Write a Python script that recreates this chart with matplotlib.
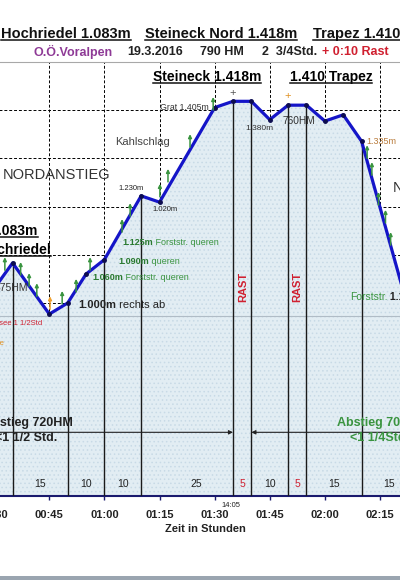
import matplotlib
matplotlib.use("Agg")
import matplotlib.pyplot as plt
import numpy as np
from matplotlib.lines import Line2D
from matplotlib.patches import Rectangle

plt.rcParams['font.family'] = ['Liberation Sans', 'DejaVu Sans']
plt.rcParams['hatch.linewidth'] = 0.6

# height profile: minutes after start, elevation in m
prof_min = [20, 30, 35, 45, 50, 55, 60, 70, 75, 90, 95, 100, 105, 110, 115, 120, 125, 130, 145]
prof_elev = [1000, 1030, 1083, 977, 1000, 1060, 1090, 1222, 1209, 1405, 1418, 1418,
             1380, 1410, 1410, 1377, 1390, 1335, 925]

# waypoints with drop lines and the minutes between them
drop_min = [35, 50, 60, 70, 95, 100, 110, 115, 130, 145]
seg_minutes = ['15', '10', '10', '25', '5', '10', '5', '15', '15']
seg_label_min = [42.5, 55, 65, 85, 97.5, 105, 112.5, 122.5, 137.5]
seg_is_rast = [False, False, False, False, True, False, True, False, False]

# small direction arrows along the route (minute, base elevation)
arrow_min = [32.9, 37.2, 39.5, 41.6, 48.5, 52.3, 56.1, 64.8, 67.0, 75.1, 77.3, 83.3, 89.6,
             131.5, 132.8, 134.6, 136.5, 137.9]
arrow_elev = [1068, 1058, 1035, 1014, 998, 1023, 1068, 1147, 1180, 1220, 1251, 1323, 1400,
              1300, 1265, 1203, 1166, 1120]

tick_min = list(range(15, 151, 15))
tick_labels = [f"{m // 60:02d}:{m % 60:02d}" for m in tick_min]

GREEN = '#3a9440'
BLUE = '#1515c8'

fig = plt.figure(figsize=(4, 5.8), dpi=100)
ax = fig.add_axes([-0.125, 84 / 580, 1.25, 434.25 / 580])

# dashed grid, hidden below the filled profile
for m in tick_min:
    ax.axvline(m, color='black', lw=0.7, ls=(0, (3, 2)), zorder=0.5)
for e in range(700, 1500, 100):
    ax.axhline(e, color='black', lw=0.7, ls=(0, (3, 2)), zorder=0.5)

ax.fill_between(prof_min, prof_elev, 600, facecolor='#e2edf3', edgecolor='#c8dae6',
                hatch='....', lw=0, zorder=1)
ax.axhline(973, color='#b0bcc6', lw=0.8, zorder=2)

drop_top = np.interp(drop_min, prof_min, prof_elev)
ax.vlines(drop_min, 600, drop_top, color='#1a1a1a', lw=1.0, zorder=3)

ax.plot(prof_min, prof_elev, color=BLUE, lw=2.3, zorder=4, solid_joinstyle='round')
ax.plot(prof_min, prof_elev, 'o', ms=2.5, color='#0d0d50', zorder=5)

for m, e in zip(arrow_min, arrow_elev):
    ax.annotate('', xy=(m, e + 27), xytext=(m, e),
                arrowprops=dict(arrowstyle='-|>', color=GREEN, lw=1.1, mutation_scale=5,
                                shrinkA=0, shrinkB=0), zorder=6)
ax.annotate('', xy=(45.2, 1014), xytext=(45.2, 987),
            arrowprops=dict(arrowstyle='-|>', color='#f0a030', lw=1.1, mutation_scale=5,
                            shrinkA=0, shrinkB=0), zorder=6)
ax.text(95, 1435, '+', fontsize=8, color='#555555', ha='center', va='center', zorder=6)
ax.text(110, 1429, '+', fontsize=8, color='#e09020', ha='center', va='center', zorder=6)

# segment durations along the bottom
for m, s, r in zip(seg_label_min, seg_minutes, seg_is_rast):
    ax.text(m, 625, s, fontsize=7.5, color='#d02030' if r else '#222222',
            ha='center', va='center', zorder=6)

# ascent / descent arrows
ax.annotate('', xy=(95, 732), xytext=(17, 732),
            arrowprops=dict(arrowstyle='-|>', color='#222222', lw=0.8, mutation_scale=6,
                            shrinkA=0, shrinkB=0), zorder=6)
ax.annotate('', xy=(100, 732), xytext=(156, 732),
            arrowprops=dict(arrowstyle='-|>', color='#222222', lw=0.8, mutation_scale=6,
                            shrinkA=0, shrinkB=0), zorder=6)

for sp in ['left', 'right']:
    ax.spines[sp].set_visible(False)
ax.spines['top'].set_color('#a8a8a8')
ax.spines['bottom'].set_color('#1a1a6e')
ax.spines['bottom'].set_linewidth(1.5)
ax.set_yticks([])
ax.set_xticks(tick_min)
ax.set_xticklabels(tick_labels, fontsize=8, fontweight='bold', color='#222222')
ax.tick_params(axis='x', direction='out', length=3, width=1, color='#1a1a6e', pad=7)
# limits after the ticks, so set_xticks cannot widen them
ax.set_xlim(17.97, 154.06)
ax.set_ylim(600, 1500)


def mixed(x, y, bold_part, rest, color, size, bold_color=None):
    t1 = ax.text(x, y, bold_part, fontsize=size, fontweight='bold',
                 color=bold_color or color, ha='left', va='center', zorder=7)
    ax.annotate(rest, xy=(1, 0), xycoords=t1, fontsize=size, color=color,
                ha='left', va='bottom', zorder=7)
    return t1


underlined = []

# labels inside the plot
underlined.append(ax.text(87.9, 1468, 'Steineck 1.418m', fontsize=10, fontweight='bold',
                          ha='center', va='center', zorder=7))
underlined.append(ax.text(121.7, 1468, '1.410 Trapez', fontsize=10, fontweight='bold',
                          ha='center', va='center', zorder=7))
underlined.append(ax.text(41.9, 1149, '1.083m', fontsize=10, fontweight='bold',
                          ha='right', va='center', zorder=7))
underlined.append(ax.text(45.5, 1110, 'Hochriedel', fontsize=10, fontweight='bold',
                          ha='right', va='center', zorder=7))

ax.text(75.1, 1406, 'Grat 1.405m', fontsize=6.3, color='#333333', va='center', zorder=7)
ax.text(62.9, 1334, 'Kahlschlag', fontsize=8, color='#444444', va='center', zorder=7)
ax.text(32.4, 1265, 'NORDANSTIEG', fontsize=10.5, color='#333333', va='center', zorder=7)
ax.text(63.7, 1238, '1.230m', fontsize=5.5, color='#222222', va='center', zorder=7)
ax.text(73.0, 1193, '1.020m', fontsize=5.5, color='#222222', va='center', zorder=7)
ax.text(108.6, 1377, '760HM', fontsize=7.3, color='#333333', va='center', zorder=7)
ax.text(98.3, 1361, '1.380m', fontsize=6, color='#333333', va='center', zorder=7)
ax.text(131.4, 1334, '1.335m', fontsize=6.5, color='#b87a3a', va='center', zorder=7)
ax.text(138.5, 1238, 'NORDABSTIEG', fontsize=10.5, color='#333333', va='center', zorder=7)
ax.text(39.2, 1031, '375HM', fontsize=7.5, color='#333333', ha='right', va='center', zorder=7)
ax.text(43.0, 958, 'Almsee 1 1/2Std', fontsize=5.5, color='#d02030', ha='right',
        va='center', zorder=7)
ax.text(32.9, 917, 'Straße', fontsize=5.5, color='#e09020', ha='right', va='center', zorder=7)

mixed(64.8, 1126, '1.125m', ' Forststr. queren', GREEN, 6.5, bold_color='#2a7a30')
mixed(63.7, 1087, '1.090m', ' queren', GREEN, 6.5, bold_color='#2a7a30')
mixed(56.6, 1052, '1.060m', ' Forststr. queren', GREEN, 6.5, bold_color='#2a7a30')
mixed(52.8, 996, '1.000m', ' rechts ab', '#222222', 8)
t_fs = ax.text(126.8, 1012, 'Forststr.', fontsize=7.5, color=GREEN, va='center', zorder=7)
ax.annotate(' 1.150m', xy=(1, 0), xycoords=t_fs, fontsize=7.5, fontweight='bold',
            color='#222222', ha='left', va='bottom', zorder=7)

for m in [97.7, 112.4]:
    ax.text(m, 1033, 'RAST', fontsize=8, fontweight='bold', color='#d02030', rotation=90,
            ha='center', va='center', zorder=7)

ax.text(51.5, 751, 'Aufstieg 720HM', fontsize=9, fontweight='bold', color='#222222',
        ha='right', va='center', zorder=7)
ax.text(47.1, 720, '<1 1/2 Std.', fontsize=9, fontweight='bold', color='#222222',
        ha='right', va='center', zorder=7)
ax.text(123.3, 751, 'Abstieg 700HM', fontsize=9, fontweight='bold', color=GREEN,
        va='center', zorder=7)
ax.text(126.8, 720, '<1 1/4Std.', fontsize=9, fontweight='bold', color=GREEN,
        va='center', zorder=7)

ax.text(94.5, 581, '14:05', fontsize=5.5, color='#222222', ha='center', va='center',
        clip_on=False)

# heading above the plot
for x, s in [(1, 'Hochriedel 1.083m'), (145, 'Steineck Nord 1.418m'), (313, 'Trapez 1.410m')]:
    underlined.append(fig.text(x / 400, 1 - 34 / 580, s, fontsize=10.5, fontweight='bold',
                               color='#111111', ha='left', va='center'))

for x, s, c in [(33, 'O.Ö.Voralpen', '#8e3a96'), (127, '19.3.2016', '#222222'),
                (200, '790 HM', '#222222'), (262, '2  3/4Std.', '#222222'),
                (322, '+ 0:10 Rast', '#d02030')]:
    fig.text(x / 400, 1 - 52 / 580, s, fontsize=9, fontweight='bold', color=c,
             ha='left', va='center')

fig.text(205 / 400, 1 - 529 / 580, 'Zeit in Stunden', fontsize=8, fontweight='bold',
         color='#222222', ha='center', va='center')

fig.add_artist(Rectangle((0, 0), 1, 4 / 580, transform=fig.transFigure,
                         facecolor='#9aa5b0', edgecolor='none'))

# underline the peak names
fig.canvas.draw()
renderer = fig.canvas.get_renderer()
inv = fig.transFigure.inverted()
for txt in underlined:
    bb = txt.get_window_extent(renderer)
    em = txt.get_fontsize() * fig.dpi / 72
    y = bb.y0 + 0.1 * em
    (x0, y0), (x1, y1) = inv.transform([(bb.x0, y), (bb.x1, y)])
    fig.add_artist(Line2D([x0, x1], [y0, y1], color='#111111', lw=1.1, zorder=8))

fig.savefig('out.png', dpi=100)
